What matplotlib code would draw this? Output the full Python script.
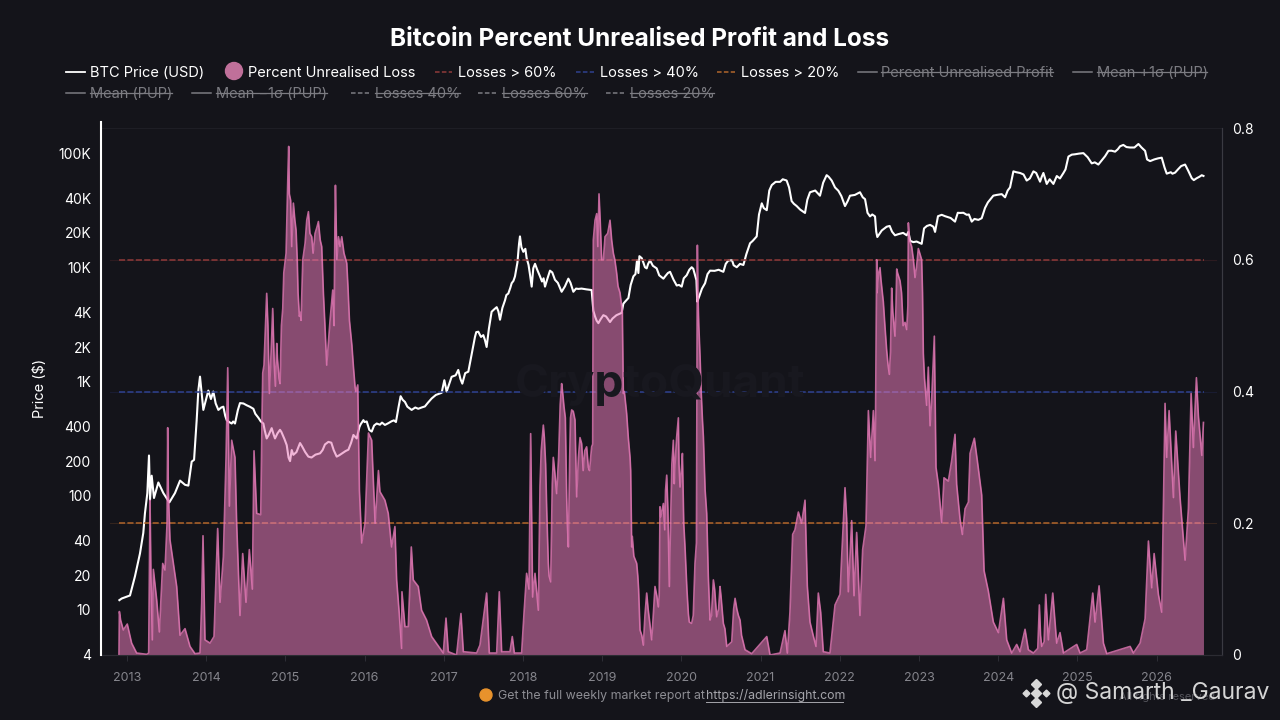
import matplotlib
matplotlib.use("Agg")
import matplotlib.pyplot as plt
import numpy as np
from matplotlib.lines import Line2D
from matplotlib.patches import Circle

plt.rcParams['font.family'] = ['Inter', 'DejaVu Sans']

price_years = [2012.904, 2012.933, 2013.038, 2013.101, 2013.164, 2013.206, 2013.227, 2013.257, 2013.278, 2013.291,
               2013.312, 2013.341, 2013.396, 2013.459, 2013.535, 2013.606, 2013.670, 2013.733, 2013.775, 2013.817,
               2013.847, 2013.880, 2013.901, 2013.922, 2013.964, 2014.027, 2014.090, 2014.154, 2014.217, 2014.259,
               2014.322, 2014.364, 2014.427, 2014.512, 2014.596, 2014.659, 2014.722, 2014.764, 2014.827, 2014.869,
               2014.932, 2015.017, 2015.059, 2015.101, 2015.185, 2015.290, 2015.438, 2015.543, 2015.648, 2015.796,
               2015.859, 2015.901, 2015.935, 2015.985, 2016.027, 2016.090, 2016.153, 2016.194, 2016.257, 2016.341,
               2016.396, 2016.455, 2016.510, 2016.594, 2016.678, 2016.762, 2016.847, 2016.973, 2017.007, 2017.036,
               2017.099, 2017.183, 2017.234, 2017.310, 2017.394, 2017.436, 2017.499, 2017.541, 2017.604, 2017.668,
               2017.710, 2017.773, 2017.815, 2017.857, 2017.899, 2017.962, 2018.004, 2018.046, 2018.110, 2018.152,
               2018.215, 2018.278, 2018.341, 2018.404, 2018.488, 2018.573, 2018.636, 2018.699, 2018.867, 2018.888,
               2018.952, 2019.015, 2019.099, 2019.246, 2019.267, 2019.331, 2019.394, 2019.457, 2019.499, 2019.562,
               2019.604, 2019.688, 2019.773, 2019.857, 2019.941, 2020.004, 2020.067, 2020.130, 2020.172, 2020.223,
               2020.299, 2020.362, 2020.530, 2020.593, 2020.699, 2020.783, 2020.867, 2020.951, 2021.015, 2021.078,
               2021.141, 2021.246, 2021.329, 2021.392, 2021.456, 2021.561, 2021.624, 2021.750, 2021.834, 2021.898,
               2021.982, 2022.066, 2022.129, 2022.255, 2022.319, 2022.382, 2022.445, 2022.474, 2022.592, 2022.697,
               2022.845, 2022.866, 2022.929, 2023.034, 2023.064, 2023.182, 2023.203, 2023.287, 2023.455, 2023.518,
               2023.603, 2023.666, 2023.792, 2023.834, 2023.939, 2024.045, 2024.087, 2024.150, 2024.192, 2024.276,
               2024.360, 2024.445, 2024.529, 2024.571, 2024.613, 2024.697, 2024.824, 2024.887, 2024.971, 2025.076,
               2025.181, 2025.265, 2025.392, 2025.476, 2025.539, 2025.665, 2025.771, 2025.855, 2025.918, 2026.065,
               2026.128, 2026.234, 2026.360, 2026.444, 2026.507, 2026.592]
price_usd = [12.1, 12.5, 13.3, 19.6, 31, 47, 70, 105, 224, 92,
             149, 95, 130, 105, 87, 105, 135, 124, 122, 198,
             205, 457, 832, 1100, 562, 830, 815, 562, 600, 457,
             427, 427, 645, 617, 575, 480, 427, 316, 389, 316,
             376, 276, 200, 227, 288, 219, 234, 295, 219, 252,
             339, 316, 398, 457, 445, 363, 427, 417, 415, 447,
             440, 741, 660, 562, 575, 603, 708, 794, 1023, 813,
             1096, 1259, 955, 1216, 2455, 2722, 2541, 2000, 4074, 4467,
             3467, 5129, 5888, 7244, 8318, 18621, 13650, 12023, 6761, 10715,
             8318, 6761, 9333, 7762, 6095, 7943, 6095, 6457, 6310, 4169,
             3236, 3802, 3311, 3981, 4786, 5370, 8318, 8900, 12023, 9772,
             11482, 9772, 7943, 9120, 6918, 6761, 8511, 10000, 8511, 5495,
             7244, 9333, 9120, 11482, 10000, 10471, 16218, 18621, 36308, 31623,
             52481, 56000, 57544, 38000, 34360, 29900, 45400, 42360, 64100, 57500,
             46800, 34360, 42360, 45400, 39500, 27900, 27900, 18400, 22650, 19050,
             19050, 20400, 16600, 16030, 21900, 22650, 20400, 28800, 25100, 29900,
             28800, 25100, 26900, 33100, 42400, 43700, 41000, 50100, 69200, 67000,
             57500, 69200, 56200, 67000, 53700, 53700, 67000, 93300, 97700, 100000,
             81300, 79400, 104700, 103000, 114800, 112000, 120200, 104700, 85100, 91200,
             66100, 67500, 79400, 60300, 60300, 63100]

# second pass of price readings, in between the first ones
price_years_more = [2014.06, 2014.12, 2014.19, 2014.24, 2014.29, 2014.34, 2014.40, 2014.47, 2014.55, 2014.62,
                    2014.69, 2014.74, 2014.79, 2014.85, 2014.90, 2014.95, 2014.99, 2015.04, 2015.08, 2015.14,
                    2015.21, 2015.25, 2015.33, 2015.38, 2015.47, 2015.50, 2015.58, 2015.61, 2015.68, 2015.72,
                    2015.76, 2015.83, 2015.95, 2016.00, 2016.06, 2016.12, 2016.22, 2016.30, 2016.37, 2016.43,
                    2016.48, 2016.54, 2016.64, 2016.72, 2016.80, 2016.90, 2017.15, 2017.21, 2017.27, 2017.35,
                    2017.41, 2017.47, 2017.52, 2017.57, 2017.64, 2017.69, 2017.74, 2017.79, 2017.84, 2017.88,
                    2017.93, 2017.95, 2017.98, 2018.03, 2018.07, 2018.09, 2018.13, 2018.18, 2018.24, 2018.26,
                    2018.31, 2018.37, 2018.44, 2018.47, 2018.53, 2018.60, 2018.67, 2018.74, 2018.80, 2018.84,
                    2018.91, 2018.93, 2018.98, 2019.05, 2019.13, 2019.18, 2019.29, 2019.36, 2019.42, 2019.44,
                    2019.47, 2019.52, 2019.54, 2019.58, 2019.64, 2019.72, 2019.80, 2019.83, 2019.90, 2019.97,
                    2020.03, 2020.10, 2020.15, 2020.19, 2020.20, 2020.26, 2020.33, 2020.42, 2020.47, 2020.56,
                    2020.64, 2020.66, 2020.74, 2020.82, 2020.90, 2020.98, 2021.04, 2021.11, 2021.19, 2021.28,
                    2021.36, 2021.42, 2021.50, 2021.59, 2021.69, 2021.79, 2021.86, 2021.94, 2022.02, 2022.10,
                    2022.19, 2022.29, 2022.35, 2022.41, 2022.46, 2022.53, 2022.63, 2022.66, 2022.74, 2022.80,
                    2022.89, 2022.97, 2023.10, 2023.14, 2023.24, 2023.33, 2023.40, 2023.49, 2023.56, 2023.63,
                    2023.70, 2023.75, 2023.87, 2023.98, 2024.12, 2024.23, 2024.32, 2024.40, 2024.48, 2024.55,
                    2024.65, 2024.74, 2024.78, 2024.85, 2024.93, 2025.02, 2025.13, 2025.22, 2025.30, 2025.35,
                    2025.43, 2025.51, 2025.58, 2025.62, 2025.72, 2025.81, 2025.88, 2025.97, 2026.02, 2026.10,
                    2026.18, 2026.20, 2026.27, 2026.31, 2026.40, 2026.47, 2026.54, 2026.57]
price_usd_more = [700, 640, 590, 500, 440, 445, 560, 640, 600, 520,
                  445, 370, 340, 345, 350, 360, 310, 215, 250, 240,
                  270, 240, 215, 228, 250, 280, 290, 250, 225, 235,
                  245, 290, 420, 440, 375, 410, 435, 430, 455, 600,
                  690, 600, 590, 590, 650, 760, 1130, 1050, 1180, 1700,
                  2700, 2450, 2300, 2900, 4300, 4100, 4400, 5700, 6600, 7600,
                  11000, 16000, 15000, 14500, 10500, 8500, 9800, 9500, 7500, 8000,
                  8000, 9000, 7300, 6500, 6800, 7300, 6500, 6500, 6400, 6350,
                  3700, 3400, 3500, 3700, 3550, 3800, 5000, 7000, 8700, 11500,
                  12500, 11000, 10000, 10700, 10300, 8500, 8400, 8900, 7800, 7000,
                  8000, 9500, 9700, 7700, 5000, 6500, 8700, 9300, 9500, 10700,
                  11500, 10400, 10700, 13000, 17000, 29000, 33000, 47000, 56000, 59000,
                  50000, 36000, 32000, 39000, 47000, 55000, 62000, 50000, 42000, 38000,
                  43000, 41000, 30000, 29000, 20500, 21000, 23000, 20500, 19500, 20000,
                  17000, 16800, 23000, 23500, 28000, 28000, 27000, 30000, 30000, 29000,
                  26500, 26000, 37000, 43000, 47000, 68000, 65000, 60000, 67000, 62000,
                  59000, 63000, 60000, 72000, 97000, 99000, 92000, 83000, 85000, 94000,
                  105000, 108000, 118000, 113000, 112000, 112000, 88000, 88000, 90000, 75000,
                  68000, 66000, 72000, 77000, 70000, 58000, 62000, 64000]

# percent unrealised loss, right axis
loss_years = [2012.899, 2012.904, 2012.920, 2012.954, 2013.004, 2013.059, 2013.122, 2013.249, 2013.274, 2013.291,
              2013.303, 2013.320, 2013.333, 2013.375, 2013.409, 2013.451, 2013.480, 2013.506, 2013.514, 2013.522,
              2013.543, 2013.586, 2013.628, 2013.670, 2013.733, 2013.796, 2013.859, 2013.922, 2013.943, 2013.960,
              2013.985, 2014.049, 2014.099, 2014.145, 2014.175, 2014.217, 2014.251, 2014.272, 2014.293, 2014.322,
              2014.364, 2014.385, 2014.427, 2014.461, 2014.503, 2014.545, 2014.583, 2014.604, 2014.638, 2014.689,
              2014.705, 2014.714, 2014.764, 2014.798, 2014.840, 2014.874, 2014.891, 2014.933, 2014.967, 2015.009,
              2015.042, 2015.067, 2015.101, 2015.135, 2015.177, 2015.198, 2015.249, 2015.291, 2015.333, 2015.375,
              2015.417, 2015.459, 2015.522, 2015.564, 2015.598, 2015.632, 2015.670, 2015.712, 2015.775, 2015.809,
              2015.859, 2015.880, 2015.914, 2015.935, 2015.964, 2016.006, 2016.049, 2016.090, 2016.133, 2016.175,
              2016.194, 2016.257, 2016.299, 2016.341, 2016.383, 2016.405, 2016.438, 2016.468, 2016.472, 2016.510,
              2016.552, 2016.590, 2016.615, 2016.678, 2016.720, 2016.783, 2016.847, 2016.994, 2017.028, 2017.057,
              2017.162, 2017.217, 2017.247, 2017.415, 2017.457, 2017.541, 2017.575, 2017.668, 2017.701, 2017.731,
              2017.836, 2017.865, 2017.891, 2017.983, 2018.013, 2018.046, 2018.076, 2018.097, 2018.122, 2018.152,
              2018.194, 2018.215, 2018.257, 2018.286, 2018.320, 2018.350, 2018.383, 2018.425, 2018.488, 2018.518,
              2018.552, 2018.573, 2018.615, 2018.657, 2018.678, 2018.741, 2018.804, 2018.825, 2018.867, 2018.888,
              2018.931, 2018.960, 2018.994, 2019.036, 2019.099, 2019.141, 2019.183, 2019.225, 2019.246, 2019.267,
              2019.309, 2019.352, 2019.373, 2019.436, 2019.478, 2019.520, 2019.562, 2019.625, 2019.667, 2019.709,
              2019.730, 2019.773, 2019.815, 2019.848, 2019.899, 2019.920, 2019.962, 2019.983, 2020.013, 2020.046,
              2020.088, 2020.130, 2020.172, 2020.202, 2020.236, 2020.278, 2020.320, 2020.362, 2020.404, 2020.446,
              2020.488, 2020.530, 2020.573, 2020.636, 2020.678, 2020.741, 2020.804, 2020.888, 2021.078, 2021.120,
              2021.246, 2021.308, 2021.338, 2021.371, 2021.405, 2021.434, 2021.477, 2021.519, 2021.561, 2021.590,
              2021.624, 2021.666, 2021.700, 2021.729, 2021.759, 2021.792, 2021.876, 2021.940, 2022.003, 2022.024,
              2022.066, 2022.087, 2022.108, 2022.150, 2022.180, 2022.213, 2022.255, 2022.289, 2022.331, 2022.361,
              2022.390, 2022.424, 2022.445, 2022.466, 2022.508, 2022.550, 2022.592, 2022.626, 2022.655, 2022.697,
              2022.719, 2022.761, 2022.824, 2022.845, 2022.866, 2022.908, 2022.950, 2022.992, 2023.034, 2023.055,
              2023.097, 2023.118, 2023.140, 2023.161, 2023.194, 2023.215, 2023.245, 2023.287, 2023.316, 2023.371,
              2023.413, 2023.455, 2023.476, 2023.518, 2023.548, 2023.582, 2023.624, 2023.645, 2023.699, 2023.737,
              2023.792, 2023.822, 2023.876, 2023.939, 2024.003, 2024.066, 2024.108, 2024.171, 2024.234, 2024.276,
              2024.339, 2024.381, 2024.445, 2024.520, 2024.550, 2024.600, 2024.634, 2024.689, 2024.739, 2024.781,
              2024.824, 2024.992, 2025.034, 2025.118, 2025.194, 2025.223, 2025.274, 2025.329, 2025.371, 2025.666,
              2025.708, 2025.792, 2025.855, 2025.897, 2025.939, 2025.969, 2026.023, 2026.065, 2026.086, 2026.107,
              2026.128, 2026.158, 2026.213, 2026.242, 2026.297, 2026.360, 2026.402, 2026.436, 2026.465, 2026.503,
              2026.528, 2026.571, 2026.592]
loss_values = [0, .066, .053, .038, .047, .018, .003, .001, .003, .235,
               .12, .023, .13, .084, .035, .139, .129, .20, .345, .25,
               .175, .139, .104, .03, .04, .013, .002, .003, .078, .181,
               .023, .018, .028, .192, .08, .149, .30, .436, .226, .326,
               .30, .2, .06, .154, .08, .16, .10, .31, .215, .213,
               .36, .428, .549, .397, .526, .408, .473, .412, .526, .61,
               .772, .69, .686, .645, .514, .508, .625, .673, .635, .64,
               .658, .62, .44, .508, .554, .713, .635, .635, .595, .508,
               .438, .407, .41, .25, .17, .2, .337, .326, .2, .28,
               .248, .235, .215, .164, .195, .114, .063, .01, .096, .043,
               .043, .164, .114, .104, .068, .053, .028, .003, .056, .005,
               0, .063, .005, .003, .015, .094, .003, .003, .096, .005,
               .005, .028, .003, .003, .063, .124, .10, .336, .088, .124,
               .068, .256, .349, .29, .139, .111, .30, .245, .412, .377,
               .24, .164, .372, .357, .24, .321, .316, .285, .316, .63,
               .67, .70, .60, .635, .66, .61, .58, .55, .53, .397,
               .367, .30, .164, .139, .038, .015, .094, .023, .104, .073,
               .225, .23, .273, .104, .326, .29, .36, .255, .306, .164,
               .063, .048, .139, .622, .453, .331, .215, .053, .114, .058,
               .104, .048, .013, .02, .086, .053, .008, .002, .028, 0,
               .003, .037, .003, .065, .183, .19, .217, .2, .235, .105,
               .05, .029, .013, .094, .065, .005, .003, .076, .092, .149,
               .254, .207, .096, .204, .09, .186, .06, .16, .196, .371,
               .30, .371, .295, .60, .588, .536, .463, .426, .557, .484,
               .586, .568, .505, .494, .656, .62, .573, .617, .6, .458,
               .379, .437, .348, .39, .484, .285, .259, .201, .269, .264,
               .295, .335, .259, .207, .183, .222, .232, .306, .329, .295,
               .243, .128, .097, .05, .034, .086, .023, .003, .016, .005,
               .039, .008, .003, .076, .013, .092, .023, .094, .018, .034,
               .003, .016, .003, .008, .094, .05, .105, .018, .002, .013,
               .003, .018, .055, .173, .102, .154, .092, .065, .222, .382,
               .30, .371, .239, .34, .238, .144, .222, .397, .315, .421,
               .363, .303, .353]

# second pass of loss readings, mostly the fuller stretches
loss_years_more = [2014.73, 2014.78, 2014.82, 2014.86, 2014.90, 2014.92, 2014.95, 2014.98, 2015.03, 2015.05,
                   2015.08, 2015.12, 2015.15, 2015.16, 2015.19, 2015.22, 2015.27, 2015.31, 2015.35, 2015.40,
                   2015.44, 2015.48, 2015.50, 2015.54, 2015.58, 2015.615, 2015.625, 2015.65, 2015.69, 2015.74,
                   2015.79, 2015.84, 2015.89, 2018.23, 2018.27, 2018.30, 2018.33, 2018.37, 2018.40, 2018.45,
                   2018.47, 2018.50, 2018.535, 2018.56, 2018.59, 2018.60, 2018.635, 2018.665, 2018.70, 2018.72,
                   2018.76, 2018.78, 2018.84, 2018.88, 2018.91, 2018.945, 2018.975, 2019.015, 2019.07, 2019.12,
                   2019.16, 2019.20, 2019.255, 2019.28, 2019.33, 2019.36, 2019.38, 2019.40, 2019.45, 2019.46,
                   2019.50, 2019.54, 2019.58, 2019.60, 2019.64, 2019.69, 2019.72, 2019.74, 2019.79, 2019.80,
                   2019.83, 2019.86, 2019.88, 2019.91, 2019.94, 2019.97, 2020.00, 2020.03, 2020.07, 2020.10,
                   2020.15, 2020.19, 2020.196, 2020.208, 2020.22, 2020.25, 2020.265, 2020.30, 2020.34, 2020.38,
                   2020.42, 2020.47, 2020.50, 2020.55, 2020.66, 2020.70, 2020.72, 2020.76, 2022.452, 2022.47,
                   2022.49, 2022.52, 2022.57, 2022.61, 2022.64, 2022.67, 2022.71, 2022.73, 2022.78, 2022.80,
                   2022.86, 2022.88, 2022.93, 2022.97, 2023.01, 2023.045, 2023.07, 2024.50, 2024.535, 2024.58]
loss_values_more = [.44, .50, .46, .44, .45, .42, .50, .58, .72, .70,
                    .62, .66, .60, .55, .52, .60, .66, .64, .61, .65,
                    .63, .55, .50, .47, .53, .50, .65, .60, .62, .61,
                    .56, .47, .40, .31, .33, .22, .12, .26, .28, .30,
                    .38, .40, .36, .20, .30, .36, .37, .31, .30, .33,
                    .28, .31, .28, .32, .66, .62, .66, .60, .64, .63,
                    .60, .56, .52, .40, .33, .28, .18, .15, .12, .10,
                    .03, .06, .07, .05, .05, .09, .09, .21, .19, .25,
                    .22, .18, .29, .26, .33, .29, .28, .20, .10, .05,
                    .06, .17, .40, .55, .50, .40, .36, .25, .12, .06,
                    .10, .07, .09, .04, .07, .07, .06, .03, .37, .55,
                    .58, .57, .50, .44, .46, .52, .53, .58, .55, .50,
                    .53, .63, .60, .59, .61, .55, .42, .01, .03, .02]

threshold_values = [0.6, 0.4, 0.2]
threshold_colors = ['#8f3a3a', '#2f418f', '#b0662c']
threshold_start, threshold_end = 2012.90, 2026.60

price_ticks = [4, 10, 20, 40, 100, 200, 400, 1000, 2000, 4000, 10000, 20000, 40000, 100000]
price_labels = ['4', '10', '20', '40', '100', '200', '400', '1K', '2K', '4K', '10K', '20K', '40K', '100K']
loss_ticks = [0, 0.2, 0.4, 0.6, 0.8]
loss_labels = ['0', '0.2', '0.4', '0.6', '0.8']
year_ticks = list(range(2013, 2027))

BG = '#14141a'
PINK = '#e77ab8'
W, H = 1280, 720


def fx(px):
    return px / W


def fy(py):
    return 1 - py / H


def merged(xa, ya, xb, yb):
    x = np.array(xa + xb)
    y = np.array(ya + yb)
    order = np.argsort(x)
    return x[order], y[order]


price_x, price_y = merged(price_years, price_usd, price_years_more, price_usd_more)
loss_x, loss_y = merged(loss_years, loss_values, loss_years_more, loss_values_more)

fig = plt.figure(figsize=(12.8, 7.2), dpi=100, facecolor=BG)
ax = fig.add_axes([fx(101), fy(655), fx(1222) - fx(101), fy(128) - fy(655)], facecolor=BG)
ax2 = ax.twinx()

# watermark sits behind everything, barely lighter than the background
fig.text(fx(660), fy(385), 'CryptoQuant', color='#18181f', fontsize=33, fontweight='bold',
         ha='center', va='center', zorder=0)
ax.patch.set_alpha(0)
ax2.patch.set_alpha(0)

ax.set_xlim(2012.672, 2026.826)
ax.set_yscale('log')
ax.set_ylim(4, 166000)
ax2.set_ylim(0, 0.8)

ax.plot(price_x, price_y, color='white', lw=1.5, zorder=3)

for val, col in zip(threshold_values, threshold_colors):
    ax2.plot([threshold_start, threshold_end], [val, val], color=col, lw=1.1, ls=(0, (4, 1.5)), zorder=1)
    ax2.plot([2012.78, 2026.75], [val, val], color=col, lw=0.8, alpha=0.2, zorder=1)

ax2.fill_between(loss_x, 0, loss_y, color=PINK, alpha=0.55, lw=0, zorder=2)
ax2.plot(loss_x, loss_y, color=PINK, alpha=0.8, lw=1.2, zorder=2)

# very faint line along the top of the plot
ax2.axhline(0.8, color='#1e1e25', lw=0.8)

ax.set_yticks(price_ticks)
ax.set_yticklabels(price_labels)
ax.yaxis.set_minor_locator(matplotlib.ticker.NullLocator())
ax.tick_params(axis='y', length=0, pad=7, labelcolor='white', labelsize=10)
ax2.set_yticks(loss_ticks)
ax2.set_yticklabels(loss_labels)
ax2.tick_params(axis='y', length=0, pad=7, labelcolor='white', labelsize=10)
ax.set_xticks(year_ticks)
ax.set_xticklabels([str(y) for y in year_ticks])
ax.tick_params(axis='x', length=4, width=0.6, color='#33333b', labelcolor='#85858c', labelsize=9, pad=8)
ax.set_ylabel('Price ($)', color='white', fontsize=10.5, labelpad=0)
ax.yaxis.set_label_coords((47 - 101) / (1222 - 101), (655 - 388) / (655 - 128))

for a in (ax, ax2):
    a.spines['top'].set_visible(False)
    a.spines['left'].set_visible(False)
    a.spines['right'].set_color('#3a3a42')
    a.spines['bottom'].set_color('#2c2c33')
    a.spines['right'].set_linewidth(0.8)

# left axis line is bright white and pokes a little above the plot
fig.add_artist(Line2D([fx(101), fx(101)], [fy(655), fy(122)], color='white', lw=1.5))

fig.text(fx(640), fy(39), 'Bitcoin Percent Unrealised Profit and Loss', color='white', fontsize=17.5,
         fontweight='bold', ha='center', va='center')


def legend_text(x, y, label, color='white', strike_to=None):
    fig.text(fx(x), fy(y + 1), label, color=color, fontsize=10.5, ha='left', va='center')
    if strike_to:
        fig.add_artist(Line2D([fx(x), fx(strike_to)], [fy(y), fy(y)], color=color, lw=0.9))


def legend_line(x0, x1, y, color, dashed=False, lw=1.3):
    fig.add_artist(Line2D([fx(x0), fx(x1)], [fy(y), fy(y)], color=color, lw=lw,
                          ls=(0, (3, 1.5)) if dashed else '-'))


legend_line(66, 85, 72, 'white')
legend_text(90, 72, 'BTC Price (USD)')
fig.add_artist(Circle((234, H - 71), 8.5, transform=None, color='#c0709a'))
legend_text(248, 72, 'Percent Unrealised Loss')
legend_line(435, 452, 72, threshold_colors[0], True, 1.1)
legend_text(458, 72, 'Losses > 60%')
legend_line(576, 594, 72, threshold_colors[1], True, 1.1)
legend_text(600, 72, 'Losses > 40%')
legend_line(717, 735, 72, threshold_colors[2], True, 1.1)
legend_text(741, 72, 'Losses > 20%')

GREY = '#7c7c82'
legend_line(858, 877, 72, GREY, lw=1.1)
legend_text(881, 72, 'Percent Unrealised Profit', GREY, 1053)
legend_line(1073, 1092, 72, GREY, lw=1.1)
legend_text(1097, 72, 'Mean +1σ (PUP)', GREY, 1207)
legend_line(66, 85, 93, GREY, lw=1.1)
legend_text(90, 93, 'Mean (PUP)', GREY, 172)
legend_line(192, 211, 93, GREY, lw=1.1)
legend_text(216, 93, 'Mean −1σ (PUP)', GREY, 327)
legend_line(351, 369, 93, GREY, True, 1.1)
legend_text(375, 93, 'Losses 40%', GREY, 460)
legend_line(478, 496, 93, GREY, True, 1.1)
legend_text(502, 93, 'Losses 60%', GREY, 587)
legend_line(606, 624, 93, GREY, True, 1.1)
legend_text(630, 93, 'Losses 20%', GREY, 714)

# footer
fig.add_artist(Circle((486, H - 695), 6, transform=None, color='#e8922c'))
fig.text(fx(498), fy(696), 'Get the full weekly market report at', color='#8d8d93', fontsize=8.9,
         ha='left', va='center')
fig.text(fx(706), fy(696), 'https://adlerinsight.com', color='#a5a5ab', fontsize=8.9, ha='left', va='center')
fig.add_artist(Line2D([fx(706), fx(843)], [fy(702), fy(702)], color='#a5a5ab', lw=0.7))

# overlay credit, bottom right
fig.text(fx(1215), fy(697), 'All rights reserved', color='#55555c', fontsize=8, ha='right', va='center')
for dx, dy, size in [(0, -9, 5), (0, 0, 5), (0, 9, 5), (-10, 0, 3.5), (10, 0, 3.5)]:
    fig.add_artist(Line2D([fx(1036 + dx)], [fy(693 + dy)], marker='D', ms=size, color='#d8d8d8', lw=0))
fig.text(fx(1056), fy(693), '@ Samarth _Gaurav', color='#d5d5d5', fontsize=16.5, ha='left', va='center')

fig.savefig('out.png', dpi=100, facecolor=BG)
